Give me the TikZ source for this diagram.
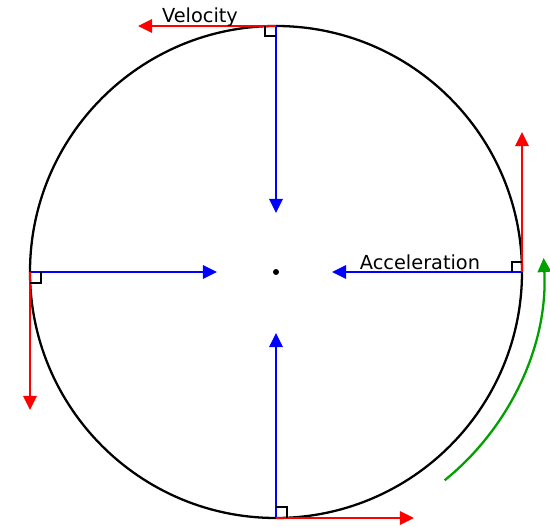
\documentclass[tikz,border=0pt]{standalone}
\usepackage{fontspec}
\setmainfont{DejaVu Sans}
\usepackage{xcolor}
\usetikzlibrary{arrows.meta,calc}
\definecolor{arcgreen}{RGB}{0,160,0}

\begin{document}
\begin{tikzpicture}[
  vec/.style={line width=1.3pt,-{Triangle[length=8pt,width=7.5pt]}},
  accel/.style={vec,blue},
  veloc/.style={vec,red},
  rightangle/.style={black,line width=0.7pt},
  lbl/.style={draw=none,fill=none,font=\fontsize{11}{13}\selectfont,anchor=base,inner sep=0pt}
]
\useasboundingbox (-5.52,-5.10) rectangle (5.48,5.44);
%% ─── Circle and centre ──────────────────────────────────────────────────────
\coordinate (O) at (0,0);
\coordinate (T) at (90:4.92);
\coordinate (R) at (0:4.92);
\coordinate (B) at (270:4.92);
\coordinate (L) at (180:4.92);
\draw[line width=1.3pt] (O) circle (4.92);
\fill (O) circle (1.7pt);
%% ─── Acceleration (towards centre) ──────────────────────────────────────────
\coordinate (Ta) at (0,1.18);
\coordinate (Ra) at (1.12,0);
\coordinate (Ba) at (0,-1.22);
\coordinate (La) at (-1.18,0);
\draw[accel] (T)--(Ta);
\draw[accel] (R)--(Ra);
\draw[accel] (B)--(Ba);
\draw[accel] (L)--(La);
%% ─── Velocity (tangent) ─────────────────────────────────────────────────────
\coordinate (Tv) at (-2.76,4.92);
\coordinate (Rv) at (4.92,2.80);
\coordinate (Bv) at (2.76,-4.92);
\coordinate (Lv) at (-4.92,-2.76);
\draw[veloc] (T)--(Tv);
\draw[veloc] (R)--(Rv);
\draw[veloc] (B)--(Bv);
\draw[veloc] (L)--(Lv);
%% ─── Right-angle marks ──────────────────────────────────────────────────────
\draw[rightangle] ($(T)+(-0.22,0)$) |- ++(0.22,-0.2);
\draw[rightangle] ($(R)+(0,0.2)$) -| ++(-0.2,-0.2);
\draw[rightangle] ($(B)+(0,0.22)$) -| ++(0.22,-0.22);
\draw[rightangle] ($(L)+(0,-0.22)$) -| ++(0.22,0.22);
%% ─── Labels ─────────────────────────────────────────────────────────────────
\node[lbl] (vlabel) at (-1.52,4.98) {Velocity};
\node[lbl] (alabel) at (2.88,0.05) {Acceleration};
%% ─── Direction of motion ────────────────────────────────────────────────────
\draw[arcgreen,vec] (-51:5.36) arc (-51:3:5.36);
\end{tikzpicture}
\end{document}
